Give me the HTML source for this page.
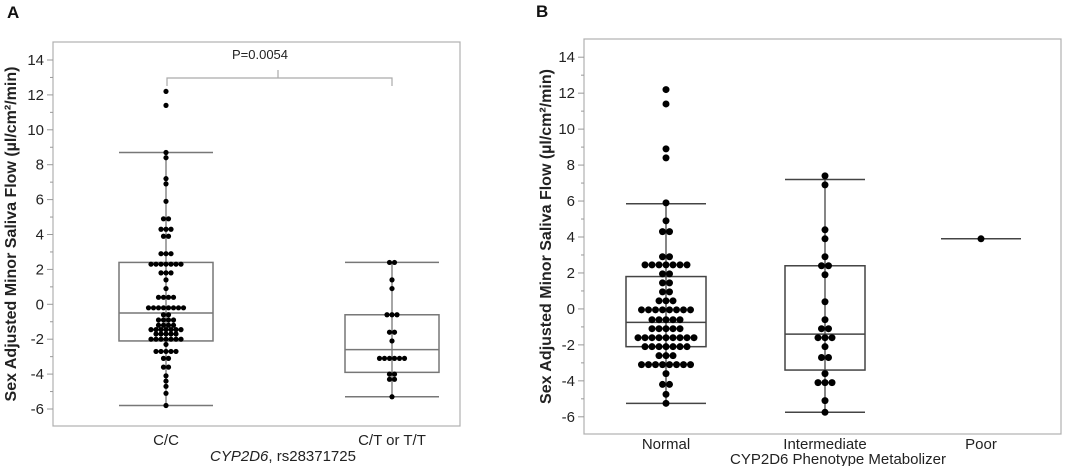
<!DOCTYPE html>
<html><head><meta charset="utf-8"><style>
html,body{margin:0;padding:0;background:#fff;}
svg{display:block;font-family:"Liberation Sans",sans-serif;}
</style></head><body>
<svg id="chart" width="1065" height="466" viewBox="0 0 1065 466" xmlns="http://www.w3.org/2000/svg"></svg>
<script>
// Panel A data
const catsA = ["C/C", "C/T or T/T"];
const boxA = [[8.7, 2.4, -0.5, -2.1, -5.8], [2.4, -0.6, -2.6, -3.9, -5.3]]; // [whiskerHi,Q3,median,Q1,whiskerLo]
const dotsA_CC = [[12.2,1],[11.4,1],[8.7,1],[8.4,1],[7.2,1],[6.9,1],[5.9,1],[4.9,2],[4.3,3],[3.9,2],[2.9,3],[2.3,7],[1.8,3],[1.4,1],[0.9,1],[0.4,4],[-0.2,8],[-0.6,2],[-0.9,4],[-1.2,4],[-1.45,7],[-1.7,5],[-2.0,7],[-2.3,1],[-2.7,5],[-3.1,2],[-3.6,2],[-4.1,1],[-4.4,1],[-4.7,1],[-5.1,1],[-5.8,1]];
const dotsA_CT = [[2.4,2],[1.4,1],[0.9,1],[-0.6,3],[-1.6,2],[-2.1,1],[-3.1,6],[-4.0,2],[-4.3,2],[-5.3,1]];
// Panel B data
const catsB = ["Normal", "Intermediate", "Poor"];
const boxB = [[5.85, 1.8, -0.75, -2.1, -5.25], [7.2, 2.4, -1.4, -3.4, -5.75], [3.9, 3.9, 3.9, 3.9, 3.9]];
const dotsB_N = [[12.2,1],[11.4,1],[8.9,1],[8.4,1],[5.9,1],[4.9,1],[4.3,2],[2.9,2],[2.45,7],[1.95,2],[1.45,2],[0.95,2],[0.45,3],[-0.05,8],[-0.6,5],[-1.1,5],[-1.6,9],[-2.1,7],[-2.6,3],[-3.1,8],[-3.6,1],[-4.2,2],[-4.75,1],[-5.25,1]];
const dotsB_I = [[7.4,1],[6.9,1],[4.4,1],[3.9,1],[2.9,1],[2.4,2],[1.9,1],[0.4,1],[-0.6,1],[-1.1,2],[-1.6,3],[-2.1,1],[-2.7,2],[-3.6,1],[-4.1,3],[-5.1,1],[-5.75,1]];
const dotsB_P = [[3.9,1]];
const yTicks = [-6,-4,-2,0,2,4,6,8,10,12,14];
const pValue = "P=0.0054";

const svg = document.getElementById('chart');
const NS = "http://www.w3.org/2000/svg";
function mk(tag, attrs, parent){const e=document.createElementNS(NS,tag);for(const k in attrs)e.setAttribute(k,attrs[k]);(parent||svg).appendChild(e);return e;}

function panel(cfg){
  const g = mk('g',{});
  
  
  const y = v => cfg.y14 + (14 - v) * cfg.ppu;
  const fr = mk('rect',{x:cfg.L,y:cfg.T,width:cfg.R-cfg.L,height:cfg.B-cfg.T,fill:'none',stroke:'#b0b0b0','stroke-width':1.2},g);
  
  
  for(let v=-6; v<=14; v++){
    const major = v%2===0;
    mk('line',{x1:cfg.L-(major?6:3),x2:cfg.L,y1:y(v),y2:y(v),stroke:'#999','stroke-width':1},g);
  }
  yTicks.forEach(v=>{
    const t = mk('text',{x:cfg.L-9,y:y(v)+5,'text-anchor':'end','font-size':15,fill:'#222'},g);
    t.textContent = v;
    
    
  });
  const yt = mk('text',{x:0,y:0,'text-anchor':'middle','font-size':16,'font-weight':'bold',fill:'#222',transform:`translate(${cfg.ytx},${(cfg.T+cfg.B)/2}) rotate(-90)`},g);
  yt.textContent = "Sex Adjusted Minor Saliva Flow (µl/cm²/min)";
  
  
  cfg.cats.forEach((c,i)=>{
    const cx = cfg.cx[i], hw = cfg.hw, b = cfg.boxes[i];
    const col = cfg.boxColor;
    if(b[1]!==b[3]){
      mk('line',{x1:cx,x2:cx,y1:y(b[0]),y2:y(b[4]),stroke:col,'stroke-width':1.3},g);
      mk('line',{x1:cx-hw,x2:cx+hw,y1:y(b[0]),y2:y(b[0]),stroke:col,'stroke-width':1.5},g);
      mk('line',{x1:cx-hw,x2:cx+hw,y1:y(b[4]),y2:y(b[4]),stroke:col,'stroke-width':1.5},g);
      const bx = mk('rect',{x:cx-hw,y:y(b[1]),width:2*hw,height:y(b[3])-y(b[1]),fill:'none',stroke:col,'stroke-width':1.5},g);
      
      
      mk('line',{x1:cx-hw,x2:cx+hw,y1:y(b[2]),y2:y(b[2]),stroke:col,'stroke-width':1.5},g);
    } else {
      mk('line',{x1:cx-hw,x2:cx+hw,y1:y(b[2]),y2:y(b[2]),stroke:col,'stroke-width':1.5},g);
    }
    cfg.dots[i].forEach(([v,n])=>{
      for(let k=0;k<n;k++){
        const dx = (k-(n-1)/2)*cfg.sp;
        const d = mk('circle',{cx:cx+dx,cy:y(v),r:cfg.r,fill:'#000'},g);
        
        
      }
    });
    const lt = mk('text',{x:cx,y:cfg.catY,'text-anchor':'middle','font-size':15,fill:'#222'},g);
    lt.textContent = c;
    
    
  });
  return {g,y};
}

const pa = panel({name:'panel-a',L:53,T:42,R:460,B:426,y14:60,ppu:17.45,ytx:16,cats:catsA,cx:[166,392],hw:47,boxes:boxA,dots:[dotsA_CC,dotsA_CT],r:2.6,sp:5,catY:445,boxColor:'#777'});
const pb = panel({name:'panel-b',L:584,T:39,R:1061,B:434,y14:57.2,ppu:17.98,ytx:551,cats:catsB,cx:[666,825,981],hw:40,boxes:boxB,dots:[dotsB_N,dotsB_I,dotsB_P],r:3.5,sp:7,catY:449,boxColor:'#444'});

const br = mk('path',{d:`M167 86 V78 H278 V70 M278 78 H392 V86`,fill:'none',stroke:'#aaa','stroke-width':1.2});


const pt = mk('text',{x:260,y:59,'text-anchor':'middle','font-size':13,fill:'#222'});
pt.textContent = pValue;



const xa = mk('text',{x:283,y:461,'text-anchor':'middle','font-size':15,fill:'#222'});
xa.innerHTML = '<tspan font-style="italic">CYP2D6</tspan>, rs28371725';


const xb = mk('text',{x:838,y:464,'text-anchor':'middle','font-size':15,fill:'#222'});
xb.textContent = 'CYP2D6 Phenotype Metabolizer';



const la = mk('text',{x:7,y:18,'font-size':17,'font-weight':'bold',fill:'#111'});
la.textContent='A';


const lb = mk('text',{x:536,y:17,'font-size':17,'font-weight':'bold',fill:'#111'});
lb.textContent='B';


</script>
</body></html>
